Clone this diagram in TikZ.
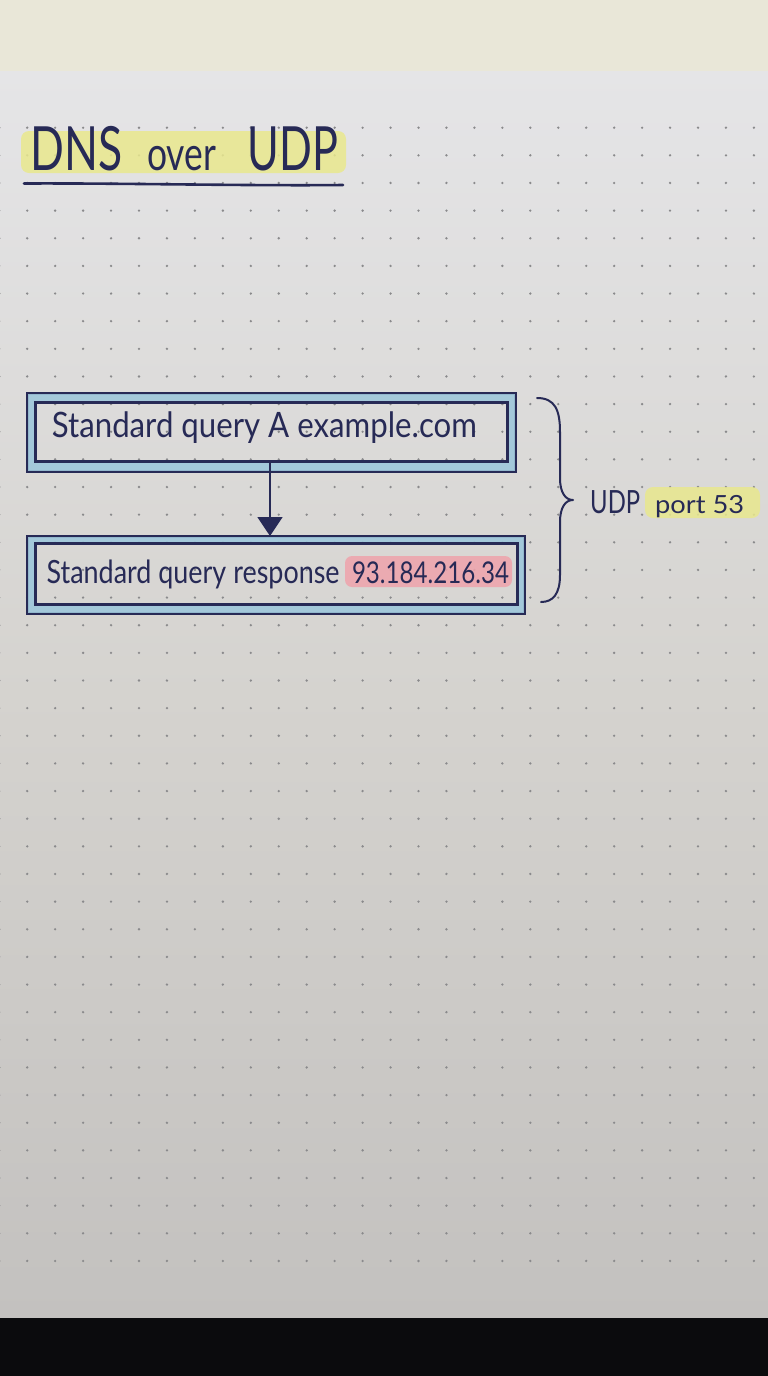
\documentclass[tikz,border=0pt]{standalone}
\usepackage{fontspec}
\setmainfont{Lato}
\usetikzlibrary{arrows.meta}
\definecolor{ink}{HTML}{272A56}
\definecolor{wall}{HTML}{E9E7D8}
\definecolor{papertop}{HTML}{E5E5E7}
\definecolor{papermid}{HTML}{D5D3CF}
\definecolor{paperbot}{HTML}{C3C1BF}
\definecolor{dotc}{HTML}{8A8A8C}
\definecolor{hlyellow}{HTML}{E9E88E}
\definecolor{hlpink}{HTML}{EFA3AC}
\definecolor{band}{HTML}{9EC7DB}
\definecolor{deskblack}{HTML}{0B0B0D}
\newcommand{\hwtext}[3]{\resizebox{#1}{\height}{\fontsize{#2}{#2}\selectfont #3}}
\begin{document}
\begin{tikzpicture}[x=1pt,y=-1pt,
  txt/.style={inner sep=0pt, anchor=base west, text=ink},
  boxline/.style={draw=ink, line width=2pt, inner sep=0pt, rectangle},
  inkline/.style={draw=ink, line width=2pt, line cap=round, line join=round},
  hly/.style={fill=hlyellow, fill opacity=0.85, rounded corners=8pt},
  hlp/.style={fill=hlpink, fill opacity=0.85, rounded corners=7pt},
  bandfill/.style={fill=band, fill opacity=0.9, even odd rule}]
\useasboundingbox (0,0) rectangle (768,1376);
% backgrounds
\fill[wall] (0,0) rectangle (768,71);
\shade[top color=papertop, bottom color=paperbot, middle color=papermid] (0,71) rectangle (768,1318);
\fill[deskblack] (0,1318) rectangle (768,1376);
% dot grid
\foreach \i in {0,...,41} {
  \foreach \j in {-1,...,26} {
    \fill[dotc] ({27.2+27.95*\j},{127.7+27.64*\i}) circle (1.3);
  }
}
% title
\fill[hly] (21,131) rectangle (346,173);
\node[txt] (tdns) at (30,170.5) {\hwtext{92pt}{61pt}{DNS}};
\node[txt] (tover) at (147,170.5) {\hwtext{69pt}{47pt}{over}};
\node[txt] (tudp) at (247.5,170.5) {\hwtext{90.5pt}{61pt}{UDP}};
\coordinate (ul1) at (24,183.5);
\coordinate (ul2) at (343,185);
\draw[inkline, line width=2.6pt] (ul1) .. controls (120,183) and (250,186) .. (ul2);
% box 1
\node[boxline, minimum width=487pt, minimum height=77pt] (qout) at (271.5,432.5) {};
\node[boxline, minimum width=471pt, minimum height=58pt] (qin) at (271.5,432) {};
% box 2
\node[boxline, minimum width=496pt, minimum height=76pt] (rout) at (276,575) {};
\node[boxline, minimum width=481pt, minimum height=60pt] (rin) at (276.5,574) {};
% blue bands
\fill[bandfill] (qout.north west) rectangle (qout.south east) (qin.north west) rectangle (qin.south east);
\fill[bandfill] (rout.north west) rectangle (rout.south east) (rin.north west) rectangle (rin.south east);
\draw[boxline] (qout.north west) rectangle (qout.south east);
\draw[boxline] (qin.north west) rectangle (qin.south east);
\draw[boxline] (rout.north west) rectangle (rout.south east);
\draw[boxline] (rin.north west) rectangle (rin.south east);
% box texts
\node[txt] (q) at (51.7,437) {\hwtext{425pt}{35pt}{Standard query A example.com}};
\fill[hlp] (345,556) rectangle (512,587);
\node[txt] (r) at (46.4,583.3) {\hwtext{293pt}{32pt}{Standard query response}};
\node[txt] (rip) at (351.8,583.3) {\hwtext{157pt}{30pt}{93.184.216.34}};
% arrow
\coordinate (ax) at (270,0);
\draw[inkline, -{Triangle[width=25pt,length=19pt]}] (qin.south -| ax) -- (rout.north -| ax);
% brace
\coordinate (btop) at (537,398);
\coordinate (btip) at (573,500);
\coordinate (bbot) at (541,602);
\draw[inkline] (btop) .. controls (555,398) and (560,410) .. (560,432)
  -- (560,478) .. controls (560,492) and (565,500) .. (btip)
  .. controls (565,500) and (560,508) .. (560,522)
  -- (560,575) .. controls (560,594) and (553,602) .. (bbot);
% label
\fill[hly] (645,487) rectangle (760,518);
\node[txt] (udp) at (590,513.3) {\hwtext{50pt}{32pt}{UDP}};
\node[txt] (port) at (655,513.3) {\hwtext{89pt}{25pt}{port 53}};
\end{tikzpicture}
\end{document}
